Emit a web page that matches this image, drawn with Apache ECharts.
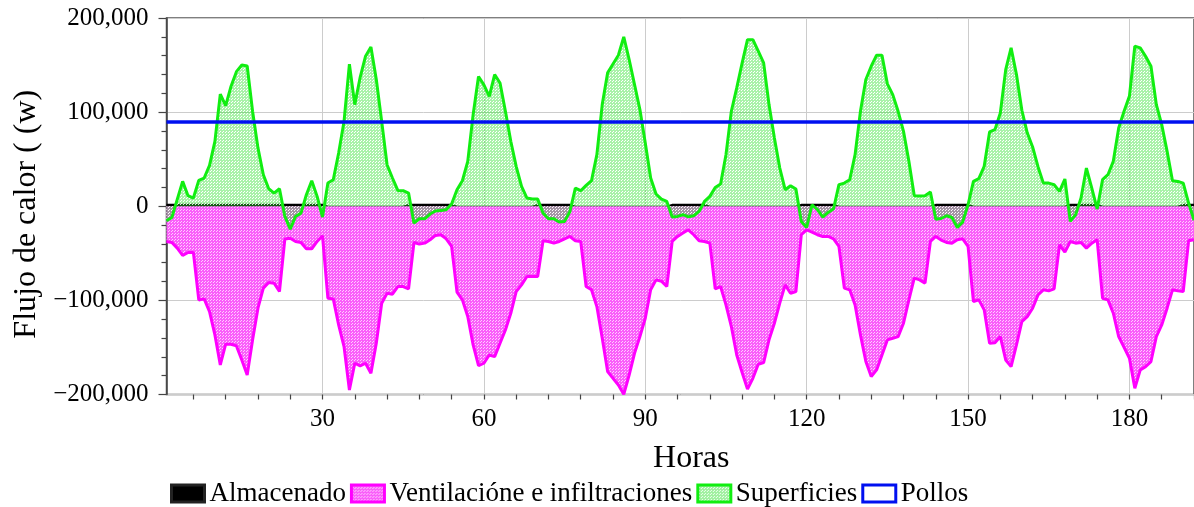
<!DOCTYPE html>
<html>
<head>
<meta charset="utf-8">
<script src="https://cdn.jsdelivr.net/npm/echarts@6/dist/echarts.min.js"></script>
<style>
html,body{margin:0;padding:0;background:#fff;}
#chart{width:1194px;height:507px;}
</style>
</head>
<body>
<div id="chart"></div>
<script>
// ---- DATA ----
const hours = Array.from({length: 192}, (_, i) => String(i + 1));

const almacenado = [
  1000,1000,1000,1000,1000,1000,1000,1000,1000,1000,
  1000,1000,1000,1000,1000,1000,1000,1000,1000,1000,
  1000,1000,1000,1000,1000,1000,1000,1000,1000,1000,
  -1000,-1000,-1000,-1000,-1000,-1000,-1000,-1000,-1000,-1000,
  -1000,-1000,-1000,-1000,-1000,1000,1000,1000,1000,1000,
  1000,1000,1000,1000,-1000,-1000,-1000,-1000,-1000,-1000,
  -1000,-1000,-1000,-1000,-1000,-1000,-1000,-1000,-1000,1000,
  1000,1000,1000,1000,1000,1000,-1000,-1000,-1000,-1000,
  -1000,-1000,-1000,-1000,-1000,-1000,-1000,-1000,-1000,-1000,
  -1000,-1000,-1000,-1000,1000,1000,1000,1000,1000,1000,
  1000,-1000,-1000,-1000,-1000,-1000,-1000,-1000,-1000,-1000,
  -1000,-1000,-1000,-1000,-1000,-1000,-1000,-1000,1000,1000,
  1000,1000,1000,1000,1000,-1000,-1000,-1000,-1000,-1000,
  -1000,-1000,-1000,-1000,-1000,-1000,-1000,-1000,-1000,-1000,
  -1000,-1000,-1000,1000,1000,1000,1000,1000,1000,1000,
  -1000,-1000,-1000,-1000,-1000,-1000,-1000,-1000,-1000,-1000,
  -1000,-1000,-1000,-1000,-1000,-1000,-1000,-1000,1000,1000,
  1000,1000,1000,1000,-1000,-1000,-1000,-1000,-1000,-1000,
  -1000,-1000,-1000,-1000,-1000,-1000,-1000,-1000,-1000,1000,
  1000,1000
];

const ventilacion = [
  -37400,-38500,-44500,-52300,-49100,-49100,-99500,-98400,-111900,-136700,
  -168600,-146600,-146600,-148400,-163300,-179300,-142000,-108300,-87000,-81000,
  -81700,-90600,-34900,-33900,-37400,-38500,-45200,-45200,-37400,-31400,
  -97700,-98400,-126100,-149100,-195200,-166800,-169500,-166800,-177500,-145600,
  -103000,-92400,-93400,-85300,-85300,-87800,-38500,-40200,-39200,-35600,
  -31000,-30300,-34600,-42700,-91300,-99500,-117200,-147300,-169300,-166800,
  -158000,-159700,-145600,-131400,-113700,-90600,-83500,-74600,-74600,-74600,
  -36700,-37400,-39200,-37400,-34600,-32100,-36700,-37400,-85300,-88800,
  -106600,-140200,-175700,-182800,-189900,-199800,-179300,-156200,-138500,-119000,
  -88800,-78200,-79600,-85300,-37400,-32100,-28500,-25000,-30300,-36700,
  -37400,-39200,-87800,-85300,-104800,-127800,-158000,-176600,-194300,-182800,
  -167900,-166100,-142000,-124300,-103000,-83500,-92400,-90600,-30300,-25000,
  -27500,-30300,-32100,-32100,-34600,-42700,-87000,-88800,-104800,-136700,
  -165000,-181000,-173900,-158000,-142000,-140200,-138500,-124300,-99500,-76400,
  -78200,-81700,-37400,-32100,-36000,-38500,-39200,-35600,-34600,-42700,
  -101200,-99500,-110100,-145600,-144900,-138500,-163300,-170400,-147300,-122500,
  -117200,-108300,-94100,-88800,-89900,-87800,-40900,-48800,-37400,-39200,
  -38500,-44500,-39200,-35600,-97700,-99500,-113700,-138500,-150000,-161500,
  -193400,-174000,-170400,-165000,-138500,-126100,-108300,-88800,-89900,-90600,
  -36700,-35600
];

const superficies = [
  -15400,-11900,7300,26400,11200,8700,27500,30000,43400,69000,
  119000,107000,127500,143000,150000,149000,101000,62000,33500,18600,
  14000,18600,-10800,-24300,-10800,-7300,12200,27100,10500,-11500,
  24600,28200,56600,90000,151000,108000,137000,159400,169300,134600,
  90200,44100,30000,16800,16500,14000,-18000,-13300,-13300,-8300,
  -5100,-4400,-3700,2300,17600,27100,47700,97300,137800,128900,
  116800,139900,131000,100900,69000,42400,21100,8700,7600,7600,
  -7300,-13300,-13300,-16800,-16100,-5500,19300,16500,22200,27100,
  54800,108000,141700,151200,160500,180000,155900,129300,102700,67200,
  30000,13000,7600,5100,-11500,-10800,-9000,-11200,-10100,-5500,
  5100,10500,20000,23600,54800,100900,125700,152000,177000,177000,
  164700,152300,108000,72500,40600,17600,21800,18300,-16100,-22500,
  1600,-3700,-11500,-6600,-2700,22900,24600,28200,54800,100900,
  134600,148800,160500,160500,130000,118600,100900,79600,47700,11200,
  10800,11200,15100,-13700,-13000,-10100,-11900,-22500,-16800,1600,
  26400,29300,42400,78900,81400,99100,145200,168300,139900,102000,
  78000,63000,42000,24600,24600,22900,15800,28900,-16100,-9000,
  8700,40600,19300,-3000,28200,33500,47700,83200,100900,117000,
  170000,168300,159400,148800,108000,86700,58300,27100,26400,24600,
  3400,-15000
];

const pollos = 90000;

const seriesNames = ['Almacenado', 'Ventilacióne e infiltraciones', 'Superficies', 'Pollos'];
const yTicks = [-200000, -100000, 0, 100000, 200000];
const xTickStep = 30;
const xMinorStep = 6;

// ---- STYLE HELPERS ----
function makePattern(base, dot, dots) {
  const c = document.createElement('canvas');
  c.width = 3; c.height = 3;
  const g = c.getContext('2d');
  g.fillStyle = base; g.fillRect(0, 0, 3, 3);
  dots.forEach(function (p) {
    g.clearRect(p[0], p[1], 1, 1);
    g.fillStyle = dot; g.fillRect(p[0], p[1], 1, 1);
  });
  return {image: c, repeat: 'repeat'};
}
const greenPat = makePattern('rgba(50,225,50,0.42)', 'rgba(255,255,255,0.9)', [[0,0],[1,2]]);
const greenPatLegend = makePattern('rgb(160,240,160)', 'rgb(240,255,240)', [[0,0],[1,2]]);
const magentaPat = makePattern('rgb(250,95,250)', 'rgb(255,205,255)', [[0,0],[1,2]]);

const FONT = 'Liberation Serif';
const fmt = function (v) {
  const s = Math.abs(v).toLocaleString('en-US');
  return v < 0 ? '\u2212' + s : s;
};

const chart = echarts.init(document.getElementById('chart'), null, {renderer: 'canvas'});
chart.setOption({
  animation: false,
  backgroundColor: '#fff',
  textStyle: {fontFamily: FONT},
  grid: {
    left: 166.5, right: -2, top: 18, bottom: 112.5,
    show: true, borderColor: '#555', borderWidth: 1.5, backgroundColor: 'transparent'
  },
  legend: {
    left: 165, top: 475,
    itemWidth: 33, itemHeight: 17, itemGap: 4,
    icon: 'rect',
    textStyle: {fontFamily: FONT, fontSize: 27, color: '#000'},
    data: [
      {name: seriesNames[0], itemStyle: {color: '#000', borderColor: '#222', borderWidth: 3}},
      {name: seriesNames[1], itemStyle: {color: magentaPat, borderColor: '#ff00ff', borderWidth: 3}},
      {name: seriesNames[2], itemStyle: {color: greenPatLegend, borderColor: '#11ee11', borderWidth: 3}},
      {name: seriesNames[3], itemStyle: {color: '#fff', borderColor: '#0010f0', borderWidth: 3}}
    ]
  },
  xAxis: [
    {
      type: 'category', data: hours, boundaryGap: false, position: 'bottom',
      name: 'Horas', nameLocation: 'middle', nameGap: 48,
      nameTextStyle: {fontFamily: FONT, fontSize: 32, color: '#000', padding: [0, 0, 0, 22]},
      axisLine: {show: true, lineStyle: {color: '#444', width: 1.5}},
      axisTick: {show: true, length: 8, lineStyle: {color: '#444', width: 1.2},
        interval: function (i, v) { return Number(v) % xTickStep === 0; }},
      axisLabel: {show: true, fontFamily: FONT, fontSize: 25, color: '#000', margin: 12,
        interval: function (i, v) { return Number(v) % xTickStep === 0; }},
      splitLine: {show: true, lineStyle: {color: '#cccccc', width: 1},
        interval: function (i, v) { return Number(v) % xTickStep === 0; }}
    },
    {
      type: 'category', data: hours, boundaryGap: false, position: 'bottom',
      axisLine: {show: false},
      axisTick: {show: true, length: 5, lineStyle: {color: '#444', width: 1.2},
        interval: function (i, v) { return Number(v) % xMinorStep === 0; }},
      axisLabel: {show: false},
      splitLine: {show: false}
    }
  ],
  yAxis: {
    type: 'value', min: yTicks[0], max: yTicks[yTicks.length - 1], interval: 100000,
    name: 'Flujo de calor ( (w)', nameLocation: 'middle', nameGap: 124,
    nameTextStyle: {fontFamily: FONT, fontSize: 32, color: '#000', padding: [0, 16, 0, 0]},
    axisLine: {show: true, lineStyle: {color: '#444', width: 1.5}},
    axisTick: {show: true, length: 8, lineStyle: {color: '#444', width: 1.2}},
    minorTick: {show: true, splitNumber: 5, length: 5, lineStyle: {color: '#444', width: 1.2}},
    axisLabel: {fontFamily: FONT, fontSize: 25, color: '#000', margin: 18, formatter: fmt},
    splitLine: {show: true, lineStyle: {color: '#cccccc', width: 1}},
    minorSplitLine: {show: false}
  },
  series: [
    {
      name: seriesNames[0], type: 'line', data: almacenado, xAxisIndex: 0, z: 1,
      symbol: 'none', lineStyle: {color: '#000', width: 3},
      itemStyle: {color: '#000'}, areaStyle: {color: '#000', opacity: 1}
    },
    {
      name: seriesNames[1], type: 'line', data: ventilacion, xAxisIndex: 0, z: 2,
      symbol: 'none', lineStyle: {color: '#ff00ff', width: 3},
      itemStyle: {color: '#ff00ff'}, areaStyle: {color: magentaPat, opacity: 1}
    },
    {
      name: seriesNames[2], type: 'line', data: superficies, xAxisIndex: 0, z: 3,
      symbol: 'none', lineStyle: {color: '#11ee11', width: 3},
      itemStyle: {color: '#11ee11'}, areaStyle: {color: greenPat, opacity: 1}
    },
    {
      name: seriesNames[3], type: 'line', data: [], xAxisIndex: 0, z: 4,
      symbol: 'none', lineStyle: {color: '#0010f0', width: 3},
      itemStyle: {color: '#0010f0'},
      markLine: {
        silent: true, symbol: ['none', 'none'], label: {show: false},
        lineStyle: {color: '#0010f0', width: 3.5, type: 'solid'},
        emphasis: {disabled: true},
        data: [{yAxis: pollos}]
      }
    }
  ]
});
</script>
</body>
</html>
